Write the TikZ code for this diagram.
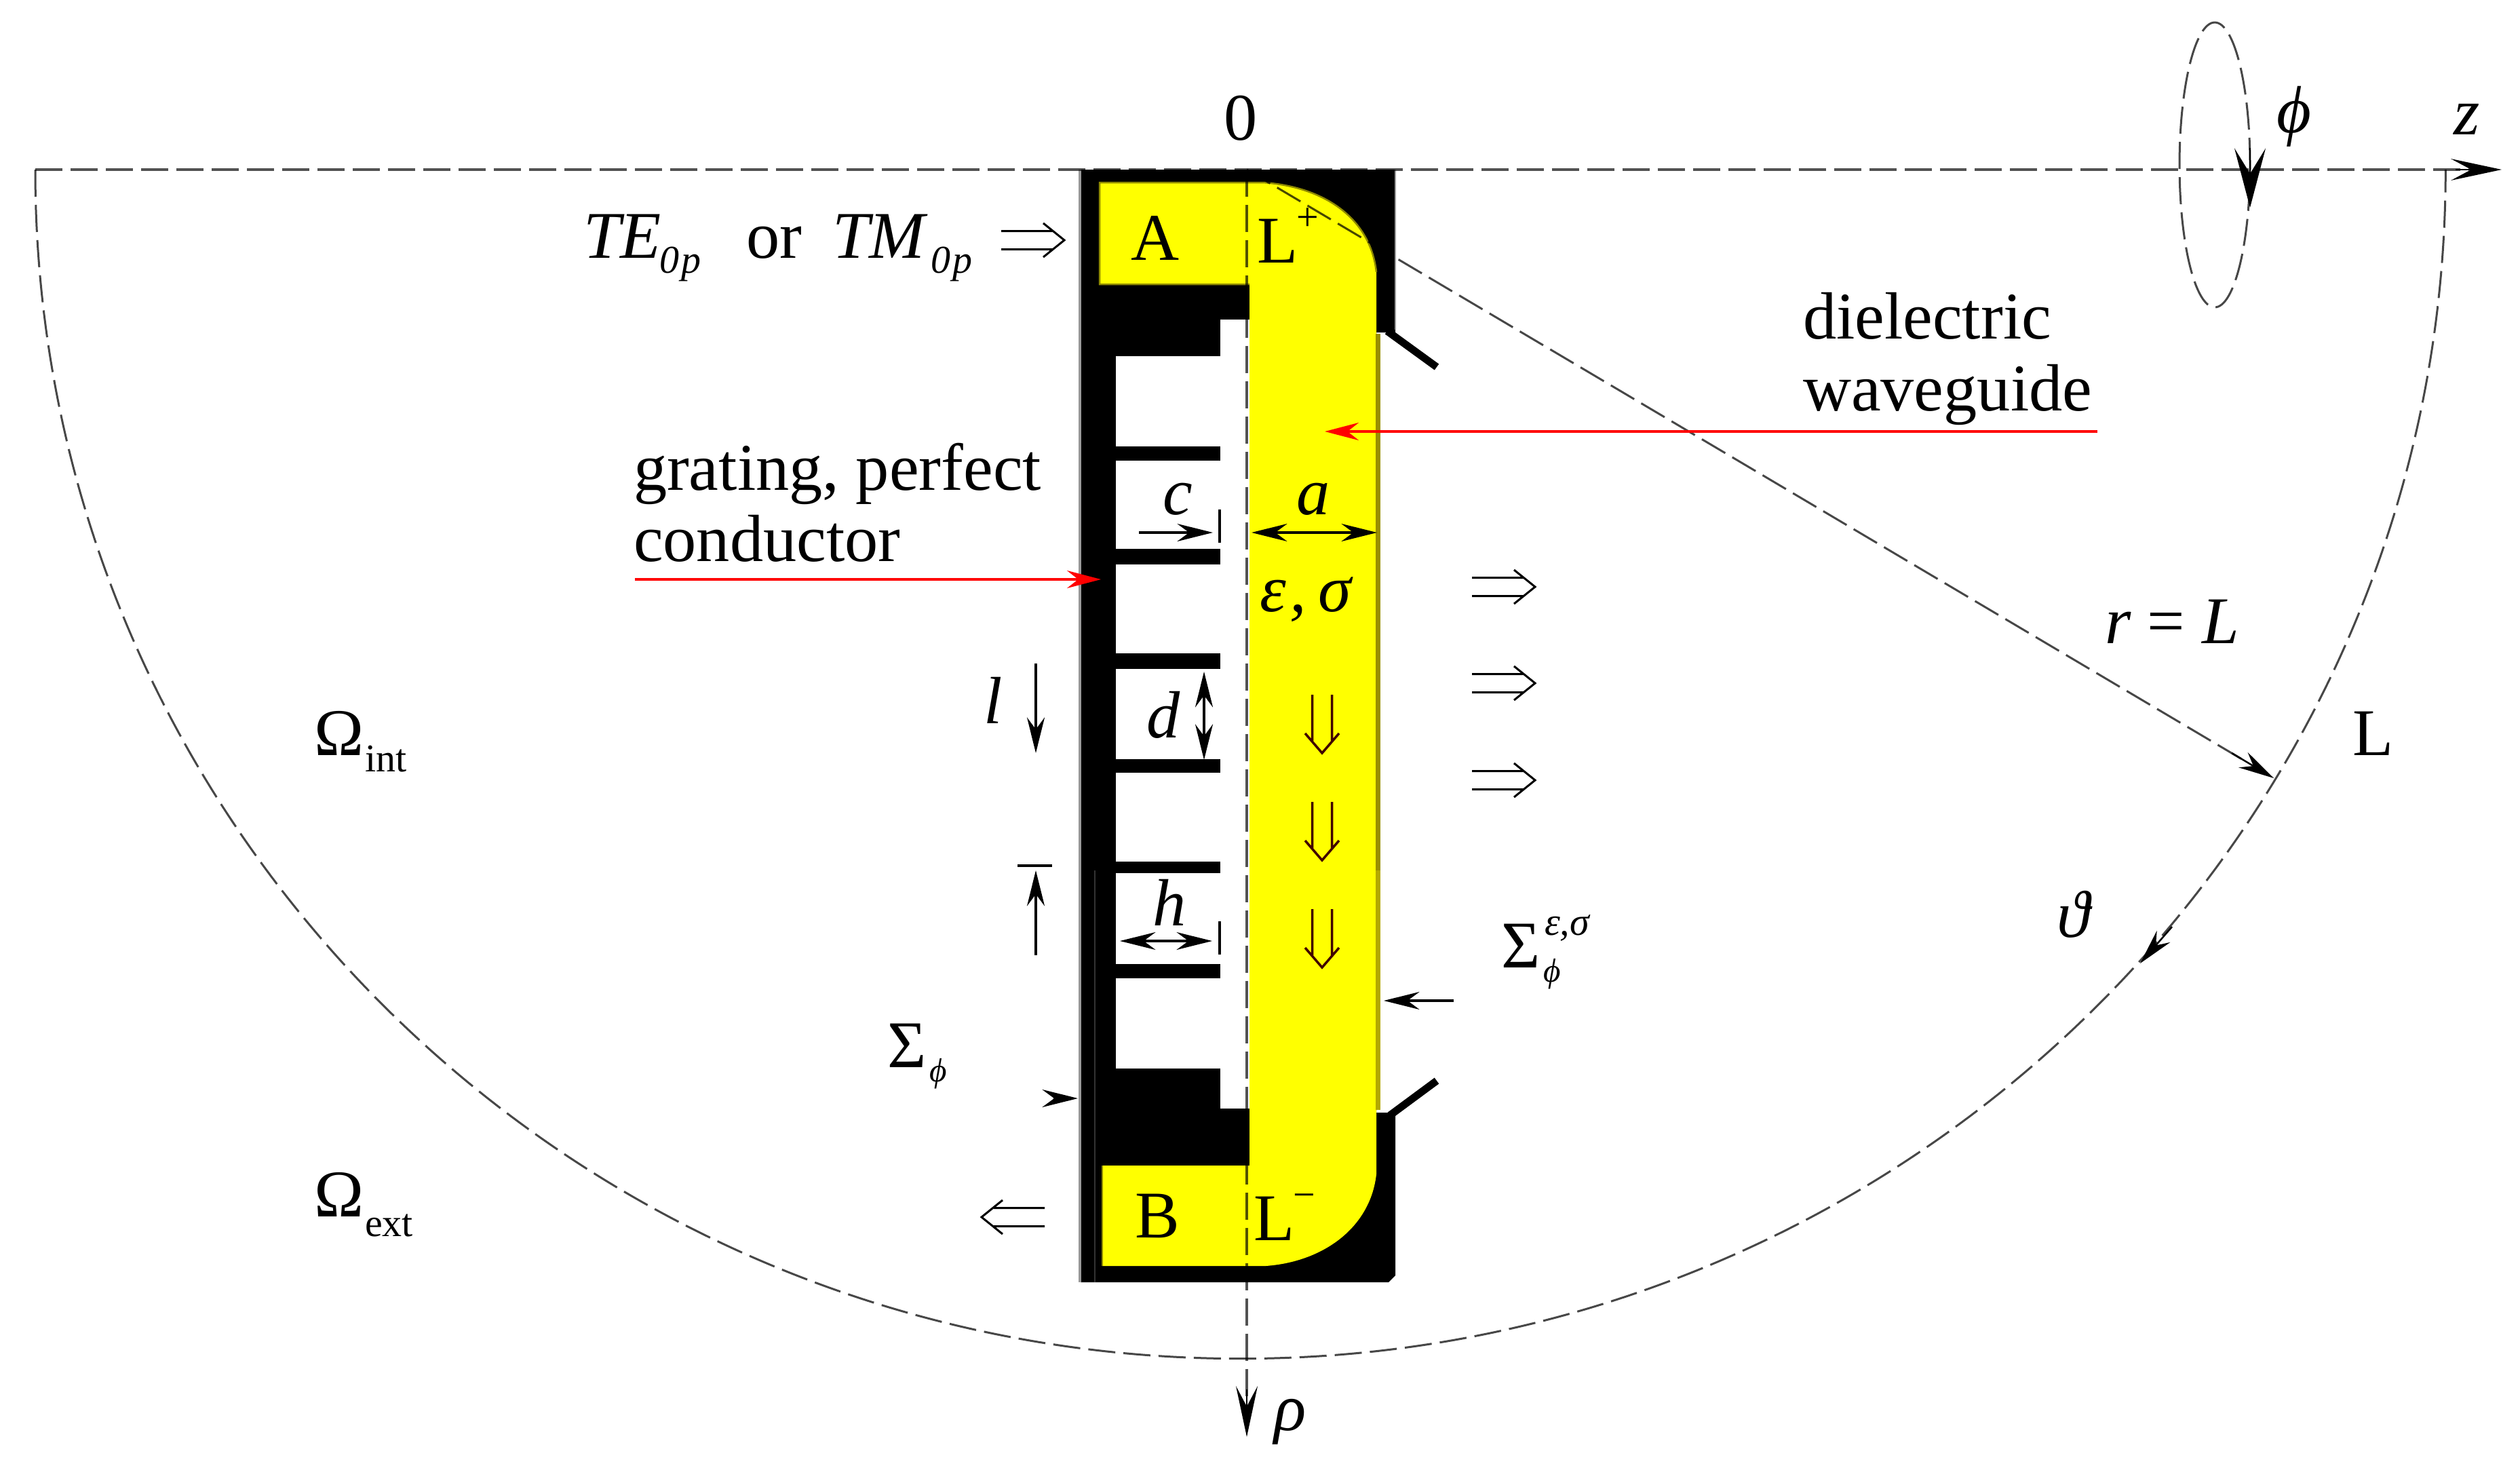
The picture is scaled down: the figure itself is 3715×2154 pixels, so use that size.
\documentclass[tikz,border=0pt]{standalone}
\usepackage{fontspec}
\setmainfont{Liberation Serif}
\usetikzlibrary{arrows.meta}
\definecolor{yel}{RGB}{255,255,0}
\definecolor{olivedge}{HTML}{8F8A00}
\definecolor{olivestrip}{HTML}{998F00}
\definecolor{olivestriplow}{HTML}{B3A800}
\definecolor{wallgray}{HTML}{999999}
\definecolor{seam}{HTML}{333333}
\tikzset{
  txt/.style={inner sep=0pt,outer sep=0pt,anchor=base west,font=\fontsize{56}{60}\selectfont},
  subt/.style={txt,font=\fontsize{33}{36}\selectfont},
  tinyt/.style={txt,font=\fontsize{28}{30}\selectfont},
  dashline/.style={draw=black,opacity=.68,line width=.08cm,dash pattern=on .8cm off .24cm},
  thindash/.style={draw=black,opacity=.72,line width=.06cm,dash pattern=on .8cm off .24cm},
  bighead/.style={-{Stealth[length=1.5cm,width=.64cm,inset=.6cm]},draw=black,line width=.05cm},
  phihead/.style={-{Stealth[length=1.75cm,width=.92cm,inset=.75cm]},draw=black,line width=.05cm},
  smallarrow/.style={{Stealth[length=1.05cm,width=.52cm,inset=.35cm]}-{Stealth[length=1.05cm,width=.52cm,inset=.35cm]},draw=black,line width=.07cm},
  onearrow/.style={-{Stealth[length=1.05cm,width=.52cm,inset=.35cm]},draw=black,line width=.07cm},
  redarrow/.style={-{Stealth[length=1cm,width=.52cm,inset=.33cm]},draw=red,line width=.07cm},
  barline/.style={draw=black,line width=.08cm},
  stub/.style={draw=black,line width=.22cm},
  dbl/.style={draw=black,line width=.06cm},
  dblyel/.style={draw=black!75!red,line width=.07cm},
  dblright/.pic={\draw[dbl] (-93,-13.5) -- (-18,-13.5) (-93,13.5) -- (-18,13.5) (-31,-25) -- (0,0) -- (-31,25);},
  dbldown/.pic={\draw[dblyel] (-14.5,-86) -- (-14.5,-18) (14.5,-86) -- (14.5,-18) (-25,-29) -- (0,0) -- (25,-29);},
}
\begin{document}
\begin{tikzpicture}[x=.02cm,y=-.02cm]
\useasboundingbox (0,0) rectangle (3715,2154);
\fill[white] (0,0) rectangle (3715,2154);
% conductor body
\fill[black] (1593,250) -- (2057,250) -- (2057,490) -- (2029,490) -- (2029,1640) -- (2057,1640)
  -- (2057,1880) -- (2047,1890) -- (1593,1890) -- cycle;
\draw[wallgray,line width=.07cm] (1592,250) -- (1592,1890);
\draw[wallgray,line width=.05cm] (2057,250) -- (2057,486);
\draw[seam,line width=.05cm] (1614,1283) -- (1614,1890);
% white notch and cavities
\fill[white] (1799,471) rectangle (1842,1634);
\fill[white] (1645,525) rectangle (1800,658);
\fill[white] (1645,679) rectangle (1800,809);
\fill[white] (1645,832) rectangle (1800,963);
\fill[white] (1645,986) rectangle (1800,1119);
\fill[white] (1645,1139) rectangle (1800,1270);
\fill[white] (1645,1287) rectangle (1800,1421);
\fill[white] (1645,1442) rectangle (1800,1575);
% dielectric
\fill[yel]
  (1621,269) -- (1862,269) .. controls (1950,275) and (2020,320) .. (2029,401)
  -- (2029,1731) .. controls (2020,1810) and (1950,1860) .. (1866,1866)
  -- (1625,1866) -- (1625,1718) -- (1842,1718) -- (1842,419) -- (1621,419) -- cycle;
\draw[olivedge,line width=.05cm] (1842,419) -- (1621,419) -- (1621,269) -- (1862,269)
  .. controls (1950,275) and (2020,320) .. (2029,401);
\draw[olivedge,line width=.04cm] (1625,1718) -- (1625,1866);
\fill[olivestrip] (2028,492) rectangle (2035,1283);
\fill[olivestriplow] (2028,1283) rectangle (2035,1636);
\draw[stub] (2045,488) -- (2118,541);
\draw[stub] (2049,1644) -- (2118,1593);
% coordinate axes and boundary
\draw[dashline] (52,250) -- (3640,250);
\draw[bighead] (3620,250) -- (3688,250);
\draw[dashline] (1838,250) -- (1838,2060);
\draw[bighead] (1838,2048) -- (1838,2118);
\draw[thindash] (52,250) arc[start angle=180,end angle=360,x radius=35.54cm,y radius=35.06cm];
\draw[onearrow,line width=.05cm] (3202,1366) -- (3155,1420);
\draw[thindash] (1838,250) -- (3310,1122);
\draw[onearrow,line width=.05cm] (3290,1110) -- (3352,1147);
\draw[thindash] (3265,243) ellipse [x radius=1.04cm,y radius=4.2cm];
\draw[phihead] (3317,218) -- (3317,306);
% dimension arrows
\draw[onearrow] (1679,785) -- (1788,785);
\draw[barline] (1798,751) -- (1798,800);
\draw[smallarrow] (1845,785) -- (2030,785);
\draw[smallarrow] (1775,990) -- (1775,1120);
\draw[smallarrow] (1651,1387) -- (1787,1387);
\draw[barline] (1798,1358) -- (1798,1407);
\draw[onearrow] (1527,978) -- (1527,1110);
\draw[barline] (1500,1276) -- (1551,1276);
\draw[onearrow] (1527,1408) -- (1527,1283);
\draw[onearrow] (2143,1475) -- (2040,1475);
\draw[onearrow] (1553,1619) -- (1589,1619);
% red leaders
\draw[redarrow] (3092,636) -- (1953,636);
\draw[redarrow] (936,854) -- (1623,854);
% double arrows
\pic at (1569,354) {dblright};
\pic at (2263,865) {dblright};
\pic at (2263,1007) {dblright};
\pic at (2263,1150) {dblright};
\pic[rotate=180] at (1447,1794) {dblright};
\pic at (1949,1110) {dbldown};
\pic at (1949,1268) {dbldown};
\pic at (1949,1426) {dbldown};
% texts
\node[txt] (zero) at (1804,206) {0};
\node[txt] (te) at (860,380) {\itshape TE};
\node[subt] (tesub) at (972,402) {\itshape 0\kern2pt p};
\node[txt] (or) at (1100,380) {or};
\node[txt] (tm) at (1227,380) {\itshape TM};
\node[subt] (tmsub) at (1372,402) {\itshape 0\kern2pt p};
\node[txt] (diel) at (2658,499) {dielectric};
\node[txt] (wave) at (2658,605) {waveguide};
\node[txt] (grat) at (934,722) {grating, perfect};
\node[txt] (cond) at (934,827) {conductor};
\node[txt] (oint) at (463,1113) {Ω};
\node[subt] (ointsub) at (538,1137) {int};
\node[txt] (oext) at (463,1793) {Ω};
\node[subt] (oextsub) at (538,1822) {ext};
\node[txt] (sigl) at (1308,1573) {Σ};
\node[tinyt] (siglsub) at (1370,1594) {\itshape ϕ};
\node[txt] (sigr) at (2213,1426) {Σ};
\node[subt] (sigrsup) at (2277,1378) {\itshape ε,σ};
\node[tinyt] (sigrsub) at (2275,1447) {\itshape ϕ};
\node[txt] (lA) at (1667,383) {A};
\node[txt] (lLp) at (1853,387) {L\kern-1pt\raisebox{27pt}{\fontsize{33}{36}\selectfont +}};
\node[txt] (lB) at (1673,1824) {B};
\node[txt] (lLm) at (1848,1828) {L\kern-1pt\raisebox{27pt}{\fontsize{33}{36}\selectfont −}};
\node[txt] (tc) at (1714,758) {\itshape c};
\node[txt] (ta) at (1911,758) {\itshape a};
\node[txt] (teps) at (1857,901) {\itshape ε\kern3pt,\kern10ptσ};
\node[txt] (td) at (1690,1087) {\itshape d};
\node[txt] (th) at (1699,1364) {\itshape h};
\node[txt] (tl) at (1450,1066) {\itshape l};
\node[txt] (tz) at (3617,198) {\itshape z};
\node[txt] (tphi) at (3356,195) {\itshape ϕ};
\node[txt] (trho) at (1878,2108) {\itshape ρ};
\node[txt] (trl) at (3103,948) {\itshape r\kern14pt\upshape =\kern14pt\itshape L};
\node[txt] (tL) at (3468,1113) {L};
\node[txt] (ttheta) at (3032,1381) {\itshape ϑ};
\end{tikzpicture}
\end{document}
